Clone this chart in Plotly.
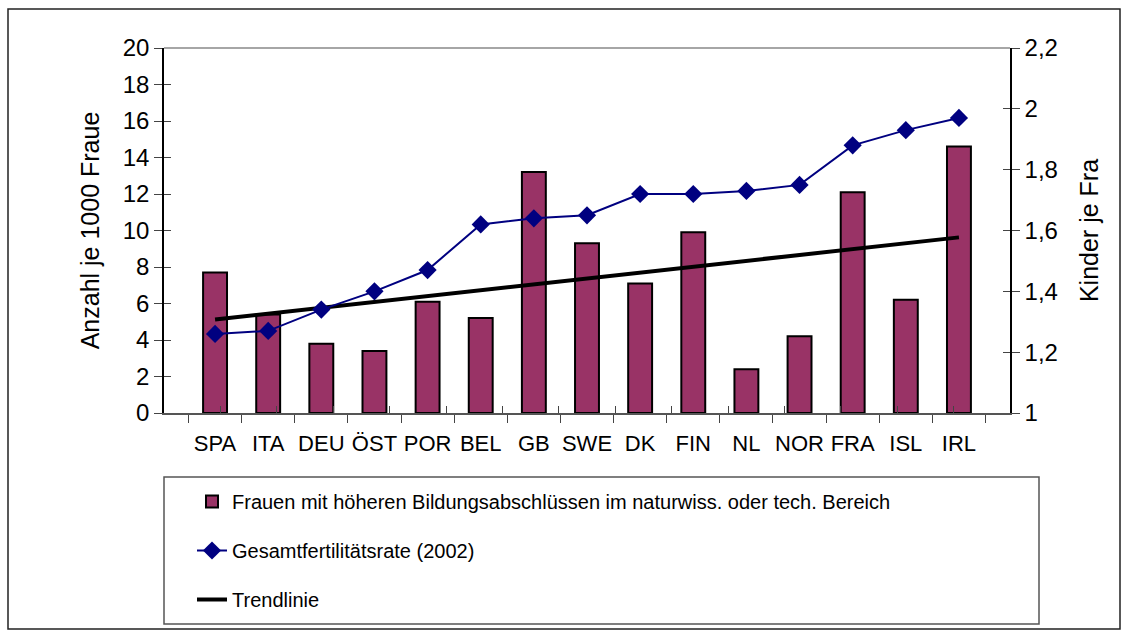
import numpy as np
import plotly.graph_objects as go

countries = ["SPA", "ITA", "DEU", "ÖST", "POR", "BEL", "GB", "SWE", "DK", "FIN", "NL", "NOR", "FRA", "ISL", "IRL"]
frauen_mint = [7.7, 5.4, 3.8, 3.4, 6.1, 5.2, 13.2, 9.3, 7.1, 9.9, 2.4, 4.2, 12.1, 6.2, 14.6]
fertilitaet = [1.26, 1.27, 1.34, 1.40, 1.47, 1.62, 1.64, 1.65, 1.72, 1.72, 1.73, 1.75, 1.88, 1.93, 1.97]
left_ticks = [0, 2, 4, 6, 8, 10, 12, 14, 16, 18, 20]
right_ticks = [1.0, 1.2, 1.4, 1.6, 1.8, 2.0, 2.2]
right_labels = ["1", "1,2", "1,4", "1,6", "1,8", "2", "2,2"]

# linear trendline of the bar series (as in the original spreadsheet)
idx = np.arange(1, len(countries) + 1)
slope, intercept = np.polyfit(idx, frauen_mint, 1)
trend = slope * idx + intercept

W, H = 1128, 636
L, R, T, B = 164, 1010, 48, 413
pw, ph = R - L, B - T

def px(x):
    return (x - L) / pw

def py(y):
    return (B - y) / ph

FONT = "Liberation Sans, Arial, sans-serif"
n = len(countries)

fig = go.Figure()
fig.add_trace(go.Bar(
    x=countries, y=frauen_mint,
    name="Frauen mit höheren Bildungsabschlüssen im naturwiss. oder tech. Bereich",
    marker=dict(color="#993366", line=dict(color="black", width=2)),
    legendgroup="a", yaxis="y",
))
fig.add_trace(go.Scatter(
    x=countries, y=fertilitaet, mode="lines+markers",
    name="Gesamtfertilitätsrate (2002)",
    line=dict(color="#000080", width=2),
    marker=dict(symbol="diamond", size=14, color="#000080"),
    legendgroup="b", yaxis="y2",
))
fig.add_trace(go.Scatter(
    x=countries, y=trend, mode="lines", name="Trendlinie",
    line=dict(color="black", width=4),
    legendgroup="c", yaxis="y",
))
# invisible helper traces so the inner-tick overlay axes get drawn
fig.add_trace(go.Scatter(
    x=[0], y=[0], xaxis="x2", yaxis="y3", mode="markers",
    marker=dict(opacity=0), showlegend=False, hoverinfo="skip",
))
fig.add_trace(go.Scatter(
    x=[0], y=[1], xaxis="x2", yaxis="y4", mode="markers",
    marker=dict(opacity=0), showlegend=False, hoverinfo="skip",
))

shapes = [
    # outer border
    dict(type="rect", xref="paper", yref="paper",
         x0=px(8), x1=px(1120), y0=py(629), y1=py(9),
         line=dict(color="#222222", width=1.5), fillcolor="rgba(0,0,0,0)", layer="below"),
    # top line of plot area
    dict(type="line", xref="paper", yref="paper", x0=0, x1=1, y0=1, y1=1,
         line=dict(color="#888888", width=1.5)),
    # legend box
    dict(type="rect", xref="paper", yref="paper",
         x0=px(164), x1=px(1039), y0=py(624), y1=py(477),
         line=dict(color="#555555", width=1.5), fillcolor="rgba(0,0,0,0)"),
]

fig.update_layout(
    width=W, height=H,
    margin=dict(l=L, r=W - R, t=T, b=H - B),
    paper_bgcolor="white", plot_bgcolor="white",
    font=dict(family=FONT, color="black"),
    bargap=0.55,
    showlegend=True,
    legend=dict(
        x=px(192), y=py(482), xanchor="left", yanchor="top",
        font=dict(family=FONT, size=20, color="black"),
        tracegroupgap=20, traceorder="grouped",
        bgcolor="rgba(0,0,0,0)", itemwidth=30,
    ),
    xaxis=dict(
        showline=True, linecolor="#555555", linewidth=1.5,
        ticks="outside", ticklen=8, tickcolor="#444444",
        tickson="boundaries", tickangle=0,
        tickfont=dict(size=22), ticklabelstandoff=10,
        showgrid=False, zeroline=False,
    ),
    xaxis2=dict(
        overlaying="x", range=[-0.5, n - 0.5], type="linear",
        tickvals=[i + 0.5 for i in range(-1, n)],
        ticks="inside", ticklen=7, tickcolor="#444444",
        showticklabels=False, showgrid=False, zeroline=False, showline=False,
        side="bottom", fixedrange=True,
    ),
    yaxis=dict(
        range=[0, 20], tickvals=left_ticks,
        showline=True, linecolor="black", linewidth=1.5,
        ticks="outside", ticklen=8, tickcolor="#444444",
        tickfont=dict(size=24),
        showgrid=False, zeroline=False,
        title=dict(text="Anzahl je 1000 Fraue", font=dict(size=25), standoff=16),
    ),
    yaxis2=dict(
        range=[1, 2.2], tickvals=right_ticks, ticktext=right_labels,
        overlaying="y", side="right",
        showline=True, linecolor="black", linewidth=1.5,
        ticks="outside", ticklen=8, tickcolor="#444444",
        tickfont=dict(size=24),
        showgrid=False, zeroline=False,
        title=dict(text="Kinder je Fra", font=dict(size=25), standoff=24),
    ),
    yaxis3=dict(
        overlaying="y", side="left", range=[0, 20], tickvals=left_ticks,
        ticks="inside", ticklen=7, tickcolor="#444444",
        showticklabels=False, showgrid=False, zeroline=False, showline=False,
    ),
    yaxis4=dict(
        overlaying="y", side="right", range=[1, 2.2], tickvals=right_ticks,
        ticks="inside", ticklen=7, tickcolor="#444444",
        showticklabels=False, showgrid=False, zeroline=False, showline=False,
    ),
    shapes=shapes,
)

fig.write_html("out.html", config={"displayModeBar": False},
               post_script="document.body.style.margin='0';")
